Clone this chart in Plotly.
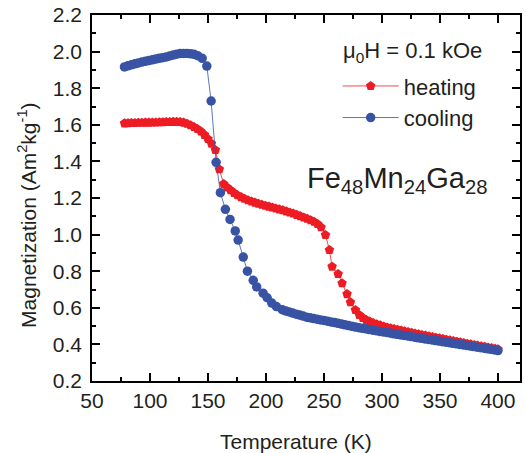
import plotly.graph_objects as go

# Heating curve (red pentagons)
heat_T = [78, 81, 84, 87, 90, 93, 96, 99, 102, 105, 108, 111, 114, 117, 120, 123, 126, 129, 132, 135,
          138, 141, 144, 147, 150, 153, 156.4, 159.8, 163.5, 166.5, 169.5, 172.5, 175.5, 178.5, 181.5,
          184.5, 187.5, 190.5, 193.5, 196.5, 199.5, 202.5, 205.5, 208.5, 211.5, 214.5, 217.5, 220.5,
          223.5, 226.5, 229.5, 232.5, 235.5, 238.5, 241.5, 244.5, 247.5, 251.3, 254.7, 257, 262.2,
          265.6, 269.9, 272.8, 277.1, 280.5, 283.5, 286.5, 289.5, 292.5, 295.5, 298.5, 301.5, 304.5,
          307.5, 310.5, 313.5, 316.5, 319.5, 322.5, 325.5, 328.5, 331.5, 334.5, 337.5, 340.5, 343.5,
          346.5, 349.5, 352.5, 355.5, 358.5, 361.5, 364.5, 367.5, 370.5, 373.5, 376.5, 379.5, 382.5,
          385.5, 388.5, 391.5, 394.5, 397.5, 400]
heat_M = [1.608, 1.609, 1.610, 1.610, 1.611, 1.611, 1.612, 1.612, 1.613, 1.613, 1.614, 1.614, 1.615,
          1.615, 1.616, 1.616, 1.615, 1.612, 1.606, 1.598, 1.588, 1.577, 1.563, 1.545, 1.522, 1.497,
          1.462, 1.357, 1.277, 1.258, 1.243, 1.228, 1.215, 1.205, 1.196, 1.188, 1.181, 1.175, 1.169,
          1.163, 1.158, 1.153, 1.148, 1.143, 1.138, 1.133, 1.127, 1.121, 1.115, 1.108, 1.101, 1.094,
          1.087, 1.079, 1.070, 1.058, 1.040, 0.998, 0.916, 0.825, 0.785, 0.734, 0.675, 0.630, 0.588,
          0.561, 0.545, 0.534, 0.525, 0.517, 0.510, 0.504, 0.498, 0.493, 0.488, 0.484, 0.480, 0.476,
          0.472, 0.468, 0.464, 0.460, 0.456, 0.452, 0.449, 0.445, 0.441, 0.437, 0.434, 0.430, 0.426,
          0.423, 0.419, 0.415, 0.412, 0.408, 0.404, 0.401, 0.397, 0.394, 0.390, 0.387, 0.383, 0.380,
          0.376, 0.373]

# Cooling curve (blue circles)
cool_T = [78, 81, 84, 87, 90, 93, 96, 99, 102, 105, 108, 111, 114, 117, 120, 123, 126, 129, 132, 135,
          138, 141, 145, 149, 152.7, 157, 160.7, 165, 169, 173.5, 176, 180.4, 184, 189, 192, 197.5,
          201, 205, 209, 214, 217, 220, 223, 226, 229, 232, 235, 238, 241, 244, 247, 250, 253, 256,
          259, 262, 265, 268, 271, 274, 277, 280, 283, 286, 289, 292, 295, 298, 301, 304, 307, 310,
          313, 316, 319, 322, 325, 328, 331, 334, 337, 340, 343, 346, 349, 352, 355, 358, 361, 364,
          367, 370, 373, 376, 379, 382, 385, 388, 391, 394, 397, 400]
cool_M = [1.916, 1.922, 1.928, 1.933, 1.938, 1.943, 1.947, 1.951, 1.955, 1.959, 1.963, 1.967, 1.971,
          1.976, 1.981, 1.986, 1.989, 1.990, 1.990, 1.988, 1.985, 1.978, 1.963, 1.921, 1.730, 1.395,
          1.229, 1.138, 1.083, 1.020, 0.970, 0.877, 0.800, 0.750, 0.714, 0.680, 0.655, 0.626, 0.607,
          0.590, 0.583, 0.577, 0.571, 0.565, 0.560, 0.555, 0.549, 0.545, 0.541, 0.538, 0.534, 0.531,
          0.527, 0.523, 0.519, 0.515, 0.511, 0.507, 0.503, 0.499, 0.495, 0.491, 0.488, 0.485, 0.481,
          0.478, 0.475, 0.471, 0.468, 0.465, 0.462, 0.458, 0.455, 0.452, 0.449, 0.446, 0.443, 0.439,
          0.436, 0.433, 0.430, 0.427, 0.424, 0.421, 0.418, 0.415, 0.412, 0.409, 0.406, 0.403, 0.400,
          0.397, 0.394, 0.391, 0.388, 0.385, 0.382, 0.379, 0.376, 0.373, 0.370, 0.366]

RED = "rgb(237,28,36)"
BLUE = "rgb(57,83,164)"
FONT = "Liberation Sans, Arial, sans-serif"
TXT = "#231f20"

fig = go.Figure()
fig.add_trace(go.Scatter(x=heat_T, y=heat_M, mode="lines+markers", name="heating",
                         line=dict(color=RED, width=0.8),
                         marker=dict(symbol="pentagon", size=10, color=RED, line=dict(width=0))))
fig.add_trace(go.Scatter(x=cool_T, y=cool_M, mode="lines+markers", name="cooling",
                         line=dict(color=BLUE, width=0.8),
                         marker=dict(symbol="circle", size=9.5, color=BLUE, line=dict(width=0))))

axis_common = dict(showline=True, linecolor="black", linewidth=1.5, mirror="ticks",
                   ticks="inside", ticklen=8, tickwidth=1.5, tickcolor="black",
                   showgrid=False, zeroline=False,
                   tickfont=dict(family=FONT, size=21, color=TXT))

fig.update_xaxes(range=[50, 419], dtick=50, tick0=50,
                 minor=dict(dtick=25, ticks="inside", ticklen=4, tickwidth=1.5, tickcolor="black"),
                 **axis_common)
fig.update_yaxes(range=[0.2, 2.2], dtick=0.2, tick0=0.2, tickformat=".1f", ticklabelstandoff=4,
                 minor=dict(dtick=0.1, ticks="inside", ticklen=4, tickwidth=1.5, tickcolor="black"),
                 **axis_common)

fig.add_annotation(xref="paper", yref="paper", x=0.477, y=-0.164, text="Temperature (K)",
                   showarrow=False, font=dict(family=FONT, size=21, color=TXT),
                   xanchor="center", yanchor="middle")
fig.add_annotation(xref="paper", yref="paper", x=-0.152, y=0.4536,
                   text="Magnetization (Am<sup>2</sup>kg<sup>-1</sup>)", textangle=-90,
                   showarrow=False, font=dict(family=FONT, size=21, color=TXT),
                   xanchor="center", yanchor="middle")
fig.add_annotation(xref="paper", yref="paper", x=0.582, y=0.899,
                   text="\u03bc<sub>0</sub>H = 0.1 kOe",
                   showarrow=False, font=dict(family=FONT, size=22, color=TXT),
                   xanchor="left", yanchor="middle")
fig.add_annotation(xref="paper", yref="paper", x=0.497, y=0.549,
                   text="Fe<sub>48</sub>Mn<sub>24</sub>Ga<sub>28</sub>",
                   showarrow=False, font=dict(family=FONT, size=29, color=TXT),
                   xanchor="left", yanchor="middle")

fig.update_layout(
    width=525, height=453,
    margin=dict(l=92, r=3, t=15, b=72),
    paper_bgcolor="white", plot_bgcolor="white",
    showlegend=True,
    legend=dict(x=0.574, y=0.863, xanchor="left", yanchor="top",
                font=dict(family=FONT, size=22, color=TXT),
                bgcolor="rgba(0,0,0,0)", borderwidth=0, itemwidth=56),
)

fig.write_html("out.html", config={"displayModeBar": False},
               post_script="document.body.style.margin='0';")
